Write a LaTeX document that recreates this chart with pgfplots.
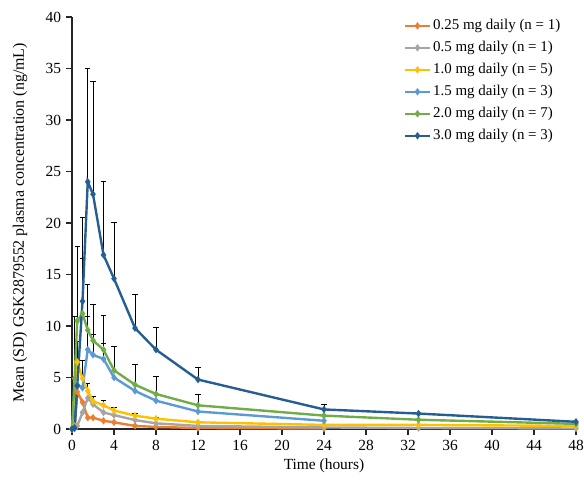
\documentclass[border=0pt]{standalone}
\usepackage{fontspec}
\setmainfont{Liberation Serif}
\usepackage{pgfplots}
\pgfplotsset{compat=1.18}
\usetikzlibrary{calc}
\definecolor{cOrange}{HTML}{ED7D31}
\definecolor{cGray}{HTML}{A5A5A5}
\definecolor{cYellow}{HTML}{FFC000}
\definecolor{cLBlue}{HTML}{5B9BD5}
\definecolor{cGreen}{HTML}{70AD47}
\definecolor{cDBlue}{HTML}{255E91}

\pgfplotsset{
  pk/.style={line width=2.4pt, mark=diamond*, mark size=1.8pt, mark options={solid}},
  sdbar/.style={forget plot, draw=none, mark=none,
    error bars/.cd, y dir=plus, y explicit,
    error bar style={black, line width=0.9pt},
    error mark options={rotate=90, mark size=2.6pt, black, line width=0.9pt}},
}

\begin{document}
\fontsize{15.5}{18}\selectfont
\begin{tikzpicture}
\begin{axis}[name=ax, scale only axis, width=504bp, height=412bp,
  xmin=0, xmax=48, ymin=0, ymax=40,
  xtick={0,4,...,48}, ytick={0,5,...,40},
  axis lines=left, axis line style={-, line width=1.3pt, black!85},
  tick style={line width=1.1pt, black!85}, tick align=outside,
  major tick length=5.5bp,
  /pgf/number format/assume math mode=true,
  tick label style={font=\fontsize{15.5}{18}\selectfont},
  xlabel style={font=\fontsize{15.5}{18}\selectfont, yshift=2bp},
  ylabel style={font=\fontsize{16}{19}\selectfont, yshift=8bp},
  xlabel={Time (hours)}, ylabel={Mean (SD) GSK2879552 plasma concentration (ng/mL)},
  legend cell align=left,
  legend style={at={(0.652,1.004)}, anchor=north west, draw=none, fill=none,
    font=\fontsize{15}{17.5}\selectfont, row sep=5.3bp},
  legend image code/.code={\draw[mark repeat=2, mark phase=2] plot coordinates {(0bp,0bp) (12.5bp,0bp) (25bp,0bp)};},
  clip=false]

% SD bars (upper only)
\addplot[sdbar] coordinates {(0.25,4.9) +- (0,6.0) (0.5,10.5) +- (0,7.2) (1,11.2) +- (0,5.4) (1.5,9.6) +- (0,4.4) (2,8.6) +- (0,3.5) (3,7.7) +- (0,3.3) (4,5.7) +- (0,2.3) (6,4.3) +- (0,2.0) (8,3.4) +- (0,1.7) (12,2.3) +- (0,1.1)};
\addplot[sdbar] coordinates {(1.5,7.7) +- (0,3.2) (2,7.2) +- (0,2.0) (3,6.8) +- (0,1.5)};
\addplot[sdbar] coordinates {(0.5,6.5) +- (0,2.0) (1,4.9) +- (0,1.8) (1.5,3.7) +- (0,0.7) (2,2.7) +- (0,0.5) (3,2.3) +- (0,0.45) (4,1.8) +- (0,0.3) (6,1.3) +- (0,0.25) (8,1.0) +- (0,0.13)};
\addplot[sdbar] coordinates {(1,12.4) +- (0,8.1) (1.5,24.0) +- (0,11.0) (2,22.8) +- (0,10.9) (3,16.9) +- (0,7.1) (4,14.6) +- (0,5.5) (6,9.8) +- (0,3.3) (8,7.7) +- (0,2.2) (12,4.8) +- (0,1.2) (24,1.9) +- (0,0.5)};

% means
\addplot[pk, color=cOrange] coordinates {(0,0) (0.25,0.1) (0.5,3.6) (1,2.6) (1.5,1.1) (2,1.1) (3,0.8) (4,0.65) (6,0.3) (8,0.2) (12,0.1) (24,0.05)};
\addplot[pk, color=cGray] coordinates {(0,0) (0.25,0.05) (0.5,0.3) (1,1.6) (1.5,3.0) (2,2.4) (3,1.6) (4,1.35) (6,0.87) (8,0.55) (12,0.3) (24,0.15) (33,0.1) (48,0.05)};
\addplot[pk, color=cYellow] coordinates {(0,0) (0.25,0.3) (0.5,6.5) (1,4.9) (1.5,3.7) (2,2.7) (3,2.3) (4,1.8) (6,1.3) (8,1.0) (12,0.65) (24,0.4) (33,0.4) (48,0.3)};
\addplot[pk, color=cLBlue] coordinates {(0,0) (0.25,0.2) (0.5,4.3) (1,4.0) (1.5,7.7) (2,7.2) (3,6.8) (4,5.0) (6,3.7) (8,2.75) (12,1.7) (24,0.8)};
\addplot[pk, color=cGreen] coordinates {(0,0) (0.25,4.9) (0.5,10.5) (1,11.2) (1.5,9.6) (2,8.6) (3,7.7) (4,5.7) (6,4.3) (8,3.4) (12,2.3) (24,1.3) (33,0.9) (48,0.5)};
\addplot[pk, color=cDBlue] coordinates {(0,0) (0.25,0.1) (0.5,4.2) (1,12.4) (1.5,24.0) (2,22.8) (3,16.9) (4,14.6) (6,9.8) (8,7.7) (12,4.8) (24,1.9) (33,1.5) (48,0.7)};
\legend{0.25 mg daily (n = 1), 0.5 mg daily (n = 1), 1.0 mg daily (n = 5), 1.5 mg daily (n = 3), 2.0 mg daily (n = 7), 3.0 mg daily (n = 3)}
\end{axis}
\pgfresetboundingbox
\path ($(ax.south west)+(-72bp,-50bp)$) rectangle ($(ax.north east)+(8bp,17bp)$);
\end{tikzpicture}
\end{document}
